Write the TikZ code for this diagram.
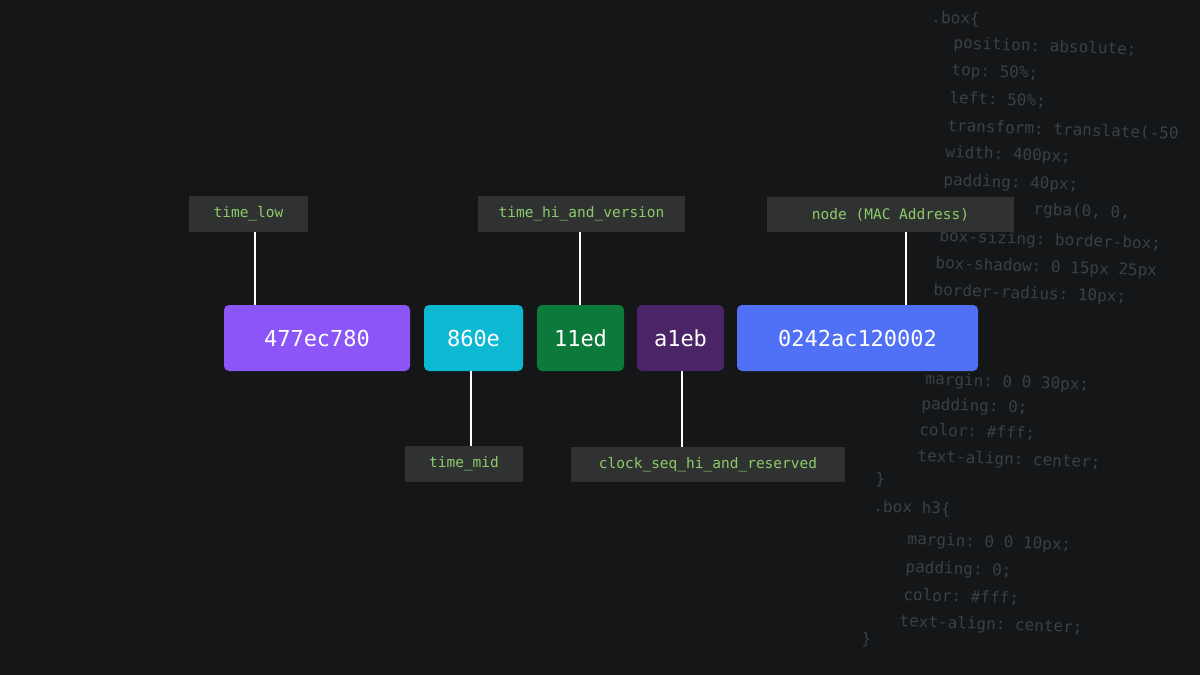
\documentclass[tikz,border=0pt]{standalone}
\usepackage{fontspec}
\setmonofont{DejaVu Sans Mono}
\definecolor{bg}{HTML}{151617}
\definecolor{lab}{HTML}{2F3231}
\definecolor{labtxt}{HTML}{8CCB6A}
\definecolor{code}{HTML}{36414A}
\definecolor{cA}{HTML}{8B55F7}
\definecolor{cB}{HTML}{0DB8D3}
\definecolor{cC}{HTML}{0B7A3B}
\definecolor{cD}{HTML}{4A2466}
\definecolor{cE}{HTML}{5070F6}
\begin{document}
\begin{tikzpicture}[x=1pt,y=-1pt,
  seg/.style={rounded corners=5pt,text=white,font=\ttfamily\fontsize{22}{24}\selectfont,inner sep=0pt},
  lab/.style={fill=lab,text=labtxt,font=\ttfamily\fontsize{14.5}{16}\selectfont,inner sep=0pt},
  con/.style={draw=white,line width=2pt}]
\fill[bg] (0,0) rectangle (1200,675);
\useasboundingbox (0,0) rectangle (1200,675);
% faint background code
\begin{scope}[every node/.style={anchor=west,text=code,font=\ttfamily\fontsize{16}{18}\selectfont,rotate=-2}]
\node at (928,18) {.box\{};
\node at (950,44) {position: absolute;};
\node at (948,71) {top: 50\%;};
\node at (946,98) {left: 50\%;};
\node at (944,126) {transform: translate(-50};
\node at (942,153) {width: 400px;};
\node at (940,181) {padding: 40px;};
\node at (1030,210) {rgba(0, 0,};
\node at (936,237) {box-sizing: border-box;};
\node at (932,264) {box-shadow: 0 15px 25px};
\node at (930,291) {border-radius: 10px;};
\node at (922,380) {margin: 0 0 30px;};
\node at (918,405) {padding: 0;};
\node at (916,430) {color: \#fff;};
\node at (914,457) {text-align: center;};
\node at (872,480) {\}};
\node at (870,507) {.box h3\{};
\node at (904,540) {margin: 0 0 10px;};
\node at (902,568) {padding: 0;};
\node at (900,595) {color: \#fff;};
\node at (896,622) {text-align: center;};
\node at (858,640) {\}};
\end{scope}
% segments
\node[seg,fill=cA,minimum width=186pt,minimum height=66pt] (a) at (317,338) {477ec780};
\node[seg,fill=cB,minimum width=99pt,minimum height=66pt] (b) at (473.5,338) {860e};
\node[seg,fill=cC,minimum width=87pt,minimum height=66pt] (c) at (580.5,338) {11ed};
\node[seg,fill=cD,minimum width=87pt,minimum height=66pt] (d) at (680.5,338) {a1eb};
\node[seg,fill=cE,minimum width=241pt,minimum height=66pt] (e) at (857.5,338) {0242ac120002};
% labels
\node[lab,minimum width=119pt,minimum height=36pt] (la) at (248.5,214) {time\_low};
\node[lab,minimum width=207pt,minimum height=36pt] (lc) at (581.5,214) {time\_hi\_and\_version};
\node[lab,minimum width=247pt,minimum height=35pt] (le) at (890.5,214.5) {node (MAC Address)};
\node[lab,minimum width=118pt,minimum height=36pt] (lb) at (464,464) {time\_mid};
\node[lab,minimum width=274pt,minimum height=35pt] (ld) at (708,464.5) {clock\_seq\_hi\_and\_reserved};
% connectors
\draw[con] (la.south -| 255,0) -- (a.north -| 255,0);
\draw[con] (lc.south -| 580,0) -- (c.north -| 580,0);
\draw[con] (le.south -| 906,0) -- (e.north -| 906,0);
\draw[con] (b.south -| 471,0) -- (lb.north -| 471,0);
\draw[con] (d.south -| 682,0) -- (ld.north -| 682,0);
\end{tikzpicture}
\end{document}
